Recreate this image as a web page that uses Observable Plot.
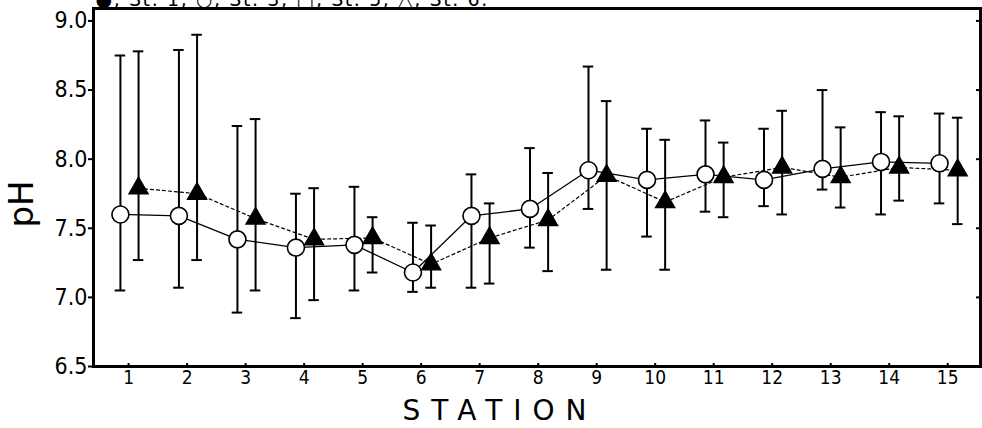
<!DOCTYPE html>
<html>
<head>
<meta charset="utf-8">
<script src="https://cdn.jsdelivr.net/npm/d3@7"></script>
<script src="https://cdn.jsdelivr.net/npm/@observablehq/plot@0.6"></script>
<style>
  html, body { margin: 0; padding: 0; background: #fff; }
  #chart { width: 982px; height: 428px; overflow: hidden; }
</style>
</head>
<body>
<div id="chart"></div>
<script>
// Stations
const stations = [1, 2, 3, 4, 5, 6, 7, 8, 9, 10, 11, 12, 13, 14, 15];
// Open circles (solid line): mean, range low, range high
const circleMean = [7.60, 7.59, 7.42, 7.36, 7.38, 7.18, 7.59, 7.64, 7.92, 7.85, 7.89, 7.85, 7.93, 7.98, 7.97];
const circleLow  = [7.05, 7.07, 6.89, 6.85, 7.05, 7.04, 7.07, 7.36, 7.64, 7.44, 7.62, 7.66, 7.78, 7.60, 7.68];
const circleHigh = [8.75, 8.79, 8.24, 7.75, 7.80, 7.54, 7.89, 8.08, 8.67, 8.22, 8.28, 8.22, 8.50, 8.34, 8.33];
// Filled triangles (dashed line)
const triMean = [7.79, 7.75, 7.57, 7.42, 7.43, 7.24, 7.43, 7.56, 7.88, 7.69, 7.87, 7.94, 7.87, 7.94, 7.92];
const triLow  = [7.27, 7.27, 7.05, 6.98, 7.18, 7.07, 7.10, 7.19, 7.20, 7.20, 7.58, 7.60, 7.65, 7.70, 7.53];
const triHigh = [8.78, 8.90, 8.29, 7.79, 7.58, 7.52, 7.68, 7.90, 8.42, 8.14, 8.12, 8.35, 8.23, 8.31, 8.30];
// Axis ticks
const yTicks = [6.5, 7.0, 7.5, 8.0, 8.5, 9.0];
const yTicksRight = [7.0, 7.5, 8.0, 8.5, 9.0];
const headerText = "●, St. 1, ○, St. 3, \u25A1\uFE0E, St. 5, \u25B3\uFE0E, St. 6.";
const xLabel = "STATION";
const yLabel = "pH";

const circleOffset = -0.14, triOffset = 0.17, capHalf = 0.09;

const circles = stations.map((s, i) => ({x: s + circleOffset, mean: circleMean[i], low: circleLow[i], high: circleHigh[i]}));
const tris = stations.map((s, i) => ({x: s + triOffset, mean: triMean[i], low: triLow[i], high: triHigh[i]}));

const condensed = "'DejaVu Sans Condensed', 'DejaVu Sans', sans-serif";
const plain = "'DejaVu Sans', sans-serif";

function bars(data) {
  return [
    Plot.ruleX(data, {x: "x", y1: "low", y2: "high", stroke: "black", strokeWidth: 2}),
    Plot.ruleY(data, {y: "high", x1: d => d.x - capHalf, x2: d => d.x + capHalf, stroke: "black", strokeWidth: 2}),
    Plot.ruleY(data, {y: "low", x1: d => d.x - capHalf, x2: d => d.x + capHalf, stroke: "black", strokeWidth: 2})
  ];
}

const chart = Plot.plot({
  width: 982,
  height: 428,
  marginLeft: 93,
  marginRight: 2,
  marginTop: 8,
  marginBottom: 62,
  style: {fontFamily: condensed, fontSize: "18px", color: "black", background: "white"},
  x: {domain: [0.4, 15.56]},
  y: {domain: [6.5, 9.09]},
  marks: [
    // lines
    Plot.line(tris, {x: "x", y: "mean", stroke: "black", strokeWidth: 1.2, strokeDasharray: "3,3"}),
    Plot.line(circles, {x: "x", y: "mean", stroke: "black", strokeWidth: 1.3}),
    ...bars(circles),
    ...bars(tris),
    Plot.dot(circles, {x: "x", y: "mean", r: 8.5, fill: "white", stroke: "black", strokeWidth: 1.6}),
    Plot.dot(tris, {x: "x", y: "mean", symbol: "triangle", r: 7, fill: "black", stroke: "black"}),
    // axes
    Plot.axisY({ticks: yTicks, tickFormat: d => d.toFixed(1), tickSize: 5, tickPadding: 1, label: null, strokeWidth: 2, fontSize: 23}),
    Plot.axisY({anchor: "left", frameAnchor: "right", ticks: yTicksRight, tickFormat: () => "", tickSize: 4, label: null, strokeWidth: 2}),
    Plot.axisX({ticks: stations, tickFormat: d => String(d), tickSize: 0, tickPadding: 4, label: null, fontSize: 19}),
    Plot.axisX({anchor: "top", frameAnchor: "bottom", ticks: stations, tickFormat: () => "", tickSize: 4, label: null, strokeWidth: 2}),
    Plot.frame({stroke: "black", strokeWidth: 3}),
    // labels
    Plot.text([yLabel], {frameAnchor: "left", dx: -71, dy: 40, rotate: -90, fontSize: 34, fill: "black", fontFamily: plain}),
    Plot.text([xLabel], {frameAnchor: "bottom", dx: -42, dy: 53, fontSize: 28, fill: "black", fontFamily: plain}),
    Plot.text([headerText], {frameAnchor: "top-left", dx: 2, dy: -3, lineAnchor: "bottom", textAnchor: "start", fontSize: 19, fill: "black", fontFamily: plain})
  ]
});

const svgSel = d3.select(chart);
svgSel.selectAll("text").filter(function() { return this.textContent === xLabel; })
  .style("letter-spacing", "11px").attr("dx", "5px");
svgSel.selectAll("text").filter(function() { return this.textContent === headerText; })
  .style("letter-spacing", "1.6px");
document.getElementById("chart").appendChild(chart);
</script>
</body>
</html>
